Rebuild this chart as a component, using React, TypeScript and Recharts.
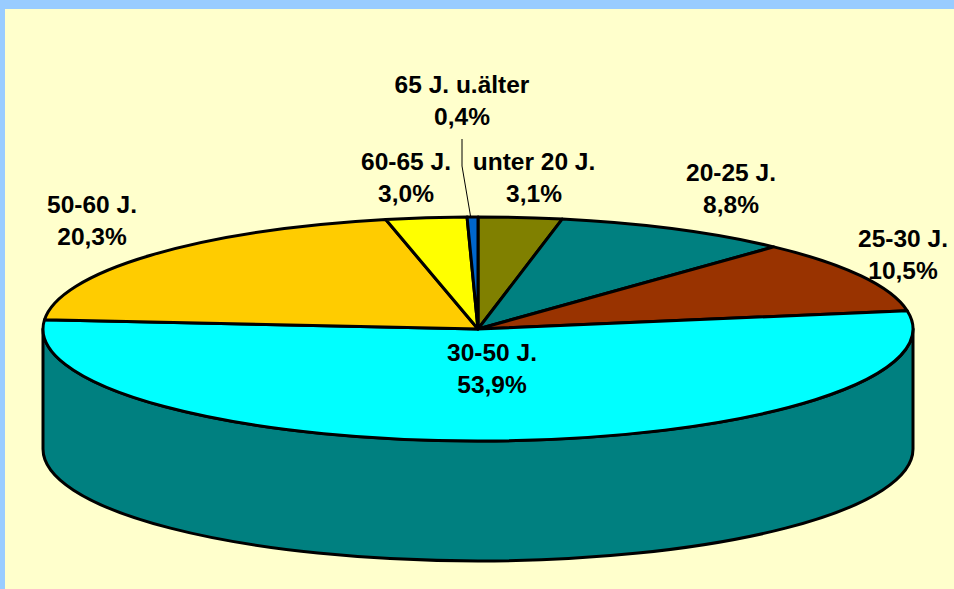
import { PieChart, Pie, Cell } from "recharts"

const categories = ["unter 20 J.", "20-25 J.", "25-30 J.", "30-50 J.", "50-60 J.", "60-65 J.", "65 J. u.älter"]
const shares = [3.1, 8.8, 10.5, 53.9, 20.3, 3.0, 0.4]
const colors = ["#808000", "#008080", "#993300", "#00FFFF", "#FFCC00", "#FFFF00", "#0066CC"]

const data = categories.map((name, i) => ({ name, value: shares[i] }))

// where each two-line label sits: text centre and first baseline
const labelSpots: Record<string, [number, number]> = {
  "unter 20 J.": [534, 170],
  "20-25 J.": [731, 181],
  "25-30 J.": [903, 247],
  "30-50 J.": [492, 361],
  "50-60 J.": [92, 213],
  "60-65 J.": [406, 170],
  "65 J. u.älter": [462, 93],
}

const W = 954
const H = 589
const TILT = 112 / 435
const DEPTH = 120
const RAD = Math.PI / 180

// flattened slice with its side wall, keeps the angles recharts worked out
function TiltedSlice(props: any) {
  const { cx, cy, outerRadius: rx, startAngle, endAngle, fill } = props
  const ry = rx * TILT
  const px = (a: number) => cx + rx * Math.cos(a * RAD)
  const py = (a: number) => cy - ry * Math.sin(a * RAD)
  const large = Math.abs(startAngle - endAngle) > 180 ? 1 : 0
  const top = `M${cx},${cy}L${px(startAngle)},${py(startAngle)}A${rx},${ry} 0 ${large} 1 ${px(endAngle)},${py(endAngle)}Z`

  // the wall only shows on the front half of the ellipse
  const a0 = Math.min(startAngle, 0)
  const a1 = Math.max(endAngle, -180)
  const wall =
    a0 > a1
      ? `M${px(a0)},${py(a0)}A${rx},${ry} 0 0 1 ${px(a1)},${py(a1)}L${px(a1)},${py(a1) + DEPTH}A${rx},${ry} 0 0 0 ${px(a0)},${py(a0) + DEPTH}Z`
      : null

  return (
    <g>
      {wall && <path d={wall} fill="#008080" stroke="#000" strokeWidth={3} strokeLinejoin="round" />}
      <path d={top} fill={fill} stroke="#000" strokeWidth={3} strokeLinejoin="round" />
    </g>
  )
}

function SliceLabel(props: any) {
  const { name, value } = props
  const [x, y] = labelSpots[name]
  return (
    <g>
      {name === "65 J. u.älter" && <path d="M462,139L462,166L470.5,216" fill="none" stroke="#000" strokeWidth={1} />}
      <text x={x} y={y} textAnchor="middle" fontFamily="Liberation Sans" fontWeight="bold" fontSize={24.5} fill="#000">
        <tspan x={x}>{name}</tspan>
        <tspan x={x} dy={32}>{value.toFixed(1).replace(".", ",")}%</tspan>
      </text>
    </g>
  )
}

export default function App() {
  return (
    <div
      style={{
        position: "absolute",
        left: 0,
        top: 0,
        width: W,
        height: H,
        boxSizing: "border-box",
        background: "#FFFFCC",
        borderTop: "9px solid #99CCFF",
        borderLeft: "5px solid #99CCFF",
      }}
    >
      <div style={{ position: "absolute", left: -5, top: -9 }}>
        <PieChart width={W} height={H} margin={{ top: 0, right: 0, bottom: 0, left: 0 }}>
          <Pie
            data={data}
            dataKey="value"
            nameKey="name"
            cx={478}
            cy={329}
            outerRadius={435}
            startAngle={90}
            endAngle={-270}
            paddingAngle={0}
            isAnimationActive={false}
            shape={TiltedSlice}
            label={SliceLabel}
            labelLine={false}
          >
            {data.map((entry, i) => (
              <Cell key={entry.name} fill={colors[i]} />
            ))}
          </Pie>
        </PieChart>
      </div>
    </div>
  )
}
